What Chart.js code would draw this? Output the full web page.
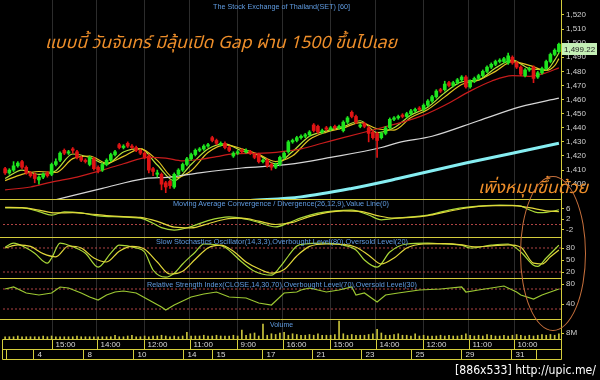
<!DOCTYPE html>
<html><head><meta charset="utf-8">
<script src="https://cdn.jsdelivr.net/npm/chart.js@4.4.1/dist/chart.umd.min.js"></script>
<style>
html,body{margin:0;padding:0;background:#000;width:600px;height:380px;overflow:hidden;}
#wrap{position:relative;width:600px;height:380px;background:#000;}
canvas{position:absolute;left:0;}
.t{position:absolute;white-space:nowrap;font-family:"Liberation Sans",Arial,sans-serif;line-height:1;}
.ttl{color:#5f9be0;font-size:7.5px;}
.thai{color:#ee8e2a;font-size:17px;font-style:italic;line-height:20px;font-family:"Noto Sans Thai","Noto Sans Thai UI","Loma","Garuda","Norasi","Noto Sans",sans-serif;}
#ell{position:absolute;left:520px;top:176px;width:66px;height:155px;border:1.3px solid #c8703c;border-radius:50%;box-sizing:border-box;}
</style></head><body><div id="wrap">
<canvas id="cPrice" width="600" height="199" style="top:0px"></canvas>
<canvas id="cMacd" width="600" height="38" style="top:199px"></canvas>
<canvas id="cSto" width="600" height="41" style="top:237px"></canvas>
<canvas id="cRsi" width="600" height="41" style="top:278px"></canvas>
<canvas id="cVol" width="600" height="41" style="top:319px"></canvas>
<div id="tTop" class="t ttl" style="left:213px;top:3px">The Stock Exchange of Thailand(SET) [60]</div>
<div id="tMacd" class="t ttl" style="left:173px;top:200px">Moving Average Convergence / Divergence(26,12,9),Value Line(0)</div>
<div id="tSto" class="t ttl" style="left:156px;top:238px">Slow Stochastics Oscillator(14,3,3),Overbought Level(80),Oversold Level(20)</div>
<div id="tRsi" class="t ttl" style="left:147px;top:281px">Relative Strength Index(CLOSE,14,30,70),Overbought Level(70),Oversold Level(30)</div>
<div id="tVol" class="t ttl" style="left:270px;top:321px">Volume</div>
<div id="th1" class="t thai" style="left:45px;top:33px">แบบนี้ วันจันทร์ มีลุ้นเปิด Gap ผ่าน 1500 ขึ้นไปเลย</div>
<div id="th2" class="t thai" style="left:478px;top:178px">เพิ่งหมุนขึ้นด้วย</div>
<div id="ell"></div>
<div id="wm" class="t" style="left:455px;top:363px;color:#fff;font-size:13px;font-family:'DejaVu Sans',sans-serif;">[886x533] http://upic.me/</div>
</div>
<script>
// ---------- DATA ----------
const open = [1411,1408,1410,1413,1416,1412,1408,1407,1403,1405, 1408,1407,1414,1417,1424,1422,1425,1423,1419,1417, 1414,1418,1412,1410,1414,1417,1421,1428,1426,1429, 1427,1426,1424,1422,1420,1411,1407,1407,1401,1402, 1398,1407,1410,1414,1418,1421,1424,1425,1427,1433, 1431,1428,1429,1426,1420,1422,1424,1423,1423,1421, 1421,1416,1417,1414,1412,1414,1419,1423,1430,1431, 1433,1434,1435,1442,1441,1437,1440,1439,1441,1440, 1438,1444,1451,1448,1441,1443,1440,1437,1436,1433, 1436,1440,1446,1447,1449,1448,1450,1452,1454,1453, 1456,1459,1462,1467,1467,1472,1470,1472,1474,1476, 1469,1473,1475,1477,1480,1483,1485,1487,1487,1486, 1490,1486,1483,1477,1481,1483,1476,1479,1482,1487, 1492,1494];
const close = [1408,1410,1413,1415,1412,1408,1406,1404,1405,1407, 1406,1414,1416,1422,1422,1423,1424,1419,1417,1416, 1419,1411,1410,1414,1417,1421,1423,1426,1427,1427, 1426,1424,1422,1419,1410,1409,1408,1400,1398,1399, 1407,1410,1414,1418,1421,1424,1425,1427,1428,1431, 1429,1429,1426,1424,1422,1423,1423,1424,1422,1419, 1416,1417,1413,1412,1414,1419,1422,1430,1431,1433, 1434,1435,1437,1438,1437,1438,1439,1440,1440,1441, 1444,1447,1448,1444,1442,1441,1436,1433,1431,1436, 1440,1446,1447,1448,1448,1450,1452,1453,1453,1456, 1459,1462,1466,1466,1471,1470,1472,1474,1476,1469, 1473,1475,1477,1480,1483,1485,1487,1488,1489,1491, 1486,1483,1478,1481,1482,1475,1479,1482,1487,1492, 1495,1499.22];
const high = [1412,1411,1416,1416,1417,1413,1409,1408,1406,1408, 1409,1415,1418,1423,1425,1424,1426,1424,1420,1418, 1420,1419,1413,1415,1418,1422,1424,1429,1428,1430, 1428,1427,1425,1423,1421,1412,1410,1408,1402,1403, 1408,1411,1415,1419,1422,1425,1426,1428,1429,1434, 1432,1430,1430,1427,1423,1424,1425,1425,1424,1422, 1422,1418,1418,1415,1415,1420,1423,1431,1432,1434, 1435,1436,1438,1443,1442,1439,1441,1441,1442,1442, 1445,1448,1452,1449,1443,1444,1441,1438,1437,1437, 1441,1447,1448,1449,1450,1451,1453,1454,1455,1457, 1460,1463,1467,1468,1473,1473,1473,1475,1477,1477, 1474,1476,1478,1481,1484,1486,1488,1489,1490,1493, 1491,1487,1484,1482,1483,1484,1480,1483,1488,1493, 1496,1500];
const low = [1407,1407,1409,1412,1411,1407,1405,1401,1400,1404, 1405,1406,1413,1416,1421,1421,1422,1418,1416,1415, 1413,1410,1408,1409,1413,1416,1420,1425,1425,1426, 1425,1423,1421,1418,1408,1406,1405,1396,1394,1397, 1397,1406,1409,1413,1417,1420,1423,1424,1426,1430, 1428,1427,1425,1423,1419,1421,1422,1422,1421,1418, 1415,1415,1412,1410,1411,1413,1418,1422,1429,1430, 1432,1433,1434,1437,1436,1436,1438,1438,1439,1439, 1437,1443,1447,1443,1440,1440,1430,1432,1419,1432, 1435,1439,1445,1446,1447,1447,1449,1451,1452,1452, 1455,1458,1461,1465,1466,1469,1469,1471,1473,1468, 1468,1472,1474,1476,1479,1482,1484,1486,1486,1485, 1485,1482,1477,1476,1480,1472,1475,1478,1481,1486, 1491,1493];
const volume = [3,3,3,4,3,3,3,3,3,4, 3,4,3,3,3,3,3,4,3,3, 3,3,3,3,3,3,5,3,3,4, 5,3,3,4,3,4,4,5,4,3, 4,3,4,9,4,4,4,5,4,4, 5,4,4,4,5,4,12,5,7,8, 4,20,5,7,6,8,9,5,7,6, 5,5,6,5,7,5,5,5,6,24, 7,5,6,5,5,5,6,7,13,8, 5,5,6,7,5,5,4,7,4,5, 4,4,4,5,4,5,4,4,5,7, 5,4,5,4,6,5,4,4,5,4, 5,6,5,4,5,4,5,6,5,6, 5,7];
// moving averages read as [bar index, value]
const maFast = [[0,1404],[4,1410],[8,1407],[12,1409.6],[16,1421.4],[20,1419],[24,1414.2],[28,1422.8],[32,1425.2],[36,1413.6],[40,1402.4],[44,1414],[48,1425],[52,1428.6],[56,1423.6],[60,1420.6],[64,1414.4],[68,1423.2],[72,1434],[76,1437.8],[80,1440.8],[84,1445],[88,1436.6],[92,1440],[96,1449],[100,1454.6],[104,1464.8],[108,1472.6],[112,1474],[116,1482.4],[120,1488],[124,1482],[128,1481],[130,1488],[131,1493]];
const maSlow = [[0,1402.5],[4,1407],[8,1409],[12,1408.3],[16,1418.1],[20,1420],[24,1414.9],[28,1419.7],[32,1425],[36,1416.9],[40,1404.4],[44,1409.6],[48,1422.4],[52,1427.9],[56,1425.1],[60,1421.1],[64,1416.1],[68,1420.1],[72,1431.7],[76,1436.9],[80,1439.9],[84,1443.7],[88,1439.3],[92,1438.4],[96,1447.3],[100,1453],[104,1461.9],[108,1470.7],[112,1473.7],[116,1480],[120,1486.9],[124,1484.3],[128,1480.6],[130,1484],[131,1489]];
const maRed = [[0,1396],[6,1398],[11,1401.5],[17,1405],[23,1410],[28,1414.5],[34,1419],[38,1418.5],[42,1416.5],[46,1417.5],[50,1419.5],[54,1421.5],[61,1422],[68,1424],[70,1425],[75,1429],[80,1433],[89,1440],[94,1444],[99,1449],[104,1456],[110,1466],[115,1473],[120,1477],[124,1476.5],[128,1479],[131,1482.5]];
const maWhite = [[12,1389],[23,1397],[33,1404],[39,1405],[46,1408],[56,1411.5],[67,1414],[77,1419],[89,1426],[93,1429.5],[101,1434],[112,1445],[122,1455],[131,1461]];
const maCyan = [[58,1388.5],[70,1391],[82,1397],[93,1404],[109,1415],[120,1422],[131,1429]];
const macdLine = [[0,6.3],[4,6.3],[8,4.9],[11,3.6],[14,4.8],[18,4.4],[22,3.3],[27,2.9],[32,2.4],[35,0.5],[37,-1.2],[40,-2.1],[44,-0.8],[48,1.5],[53,2.9],[57,2.0],[60,0.8],[64,-0.9],[67,0.6],[70,2.5],[74,4.3],[78,5.2],[82,5.5],[86,3.6],[89,1.8],[93,2.5],[100,3.6],[105,5.5],[110,6.7],[117,7.4],[122,7.0],[124,5.6],[126,4.5],[128,4.6],[131,5.6]];
const macdSignal = [[0,6.5],[4,6.4],[8,5.5],[12,4.4],[16,4.5],[20,4.0],[24,3.4],[28,3.0],[32,2.7],[36,1.2],[40,-1.0],[44,-1.3],[48,0.3],[52,2.0],[56,2.4],[60,1.3],[64,0.0],[68,0.8],[72,3.0],[76,4.5],[80,5.2],[84,5.0],[88,3.4],[92,2.4],[96,2.7],[100,3.4],[104,4.7],[108,6.0],[112,6.9],[116,7.2],[120,7.2],[124,6.4],[128,5.2],[131,4.9]];
const stoK = [[0,82],[2,92],[5,80],[7,67],[10,42],[11,55],[13,92],[15,87],[19,67],[22,32],[25,67],[27,87],[31,80],[33,70],[35,25],[38,7],[40,17],[42,40],[45,70],[47,90],[50,88],[52,82],[56,45],[59,22],[63,12],[65,32],[67,60],[69,85],[71,90],[75,92],[80,87],[83,75],[85,50],[88,32],[91,70],[95,90],[100,92],[104,90],[108,87],[110,80],[115,87],[119,90],[122,70],[125,37],[126,34],[128,55],[131,87]];
const stoD = [[0,80],[3,88],[6,84],[9,66],[12,58],[15,85],[18,80],[21,55],[24,45],[27,72],[30,84],[33,77],[36,45],[39,15],[42,22],[45,52],[48,80],[51,87],[54,72],[57,45],[60,28],[63,17],[66,26],[69,60],[72,84],[76,90],[80,89],[83,82],[86,62],[89,40],[92,55],[95,80],[99,90],[104,91],[108,88],[111,83],[115,85],[119,88],[122,82],[125,42],[127,40],[129,58],[131,75]];
const rsi = [[0,70],[2,74],[5,62],[8,58],[11,62],[13,74],[15,72],[18,62],[20,54],[22,48],[24,58],[26,64],[28,66],[31,62],[34,48],[37,34],[38,28],[40,38],[44,54],[47,60],[50,64],[53,54],[57,52],[60,42],[63,38],[66,62],[69,64],[70,68],[72,72],[76,64],[79,68],[82,74],[83,58],[85,62],[88,44],[90,58],[93,62],[98,68],[103,70],[108,74],[109,64],[112,68],[118,76],[121,64],[122,58],[125,50],[127,58],[131,70]];
const macdLevels = [0];
const stoLevels = [80, 20];
const rsiLevels = [70, 30];
const priceTicks = [1400,1410,1420,1430,1440,1450,1460,1470,1480,1490,1500,1510,1520];
const macdTicks = [6, 2, -2];
const stoTicks = [80, 50, 20];
const rsiTicks = [80, 60, 40, 20];
const volTicks = [8];
const hourPos = [11.1,21.7,32.9,43.7,54.9,65.7,76.9,87.7,98.9,109.7,120.4];
const hourLabels = ['15:00','14:00','12:00','11:00','9:00','16:00','15:00','14:00','12:00','11:00','10:00'];
const datePos = [0.2,6.6,18.4,30.3,42.1,48.9,60.8,72.6,84.2,96.0,107.9,119.7,125.6];
const dateLabels = ['','4','8','10','14','15','17','21','23','25','29','31',''];

// ---------- CHARTS ----------
const N = close.length;
const YEL = '#d4cc3c';
const GREEN = '#1ee61e', RED = '#e01414';
const FONT = '"Liberation Sans", Arial, sans-serif';
Chart.defaults.font.family = FONT;
const pts = a => a.map(([x,y]) => ({x, y}));
const levelDs = v => ({type:'line', data:[{x:-0.5,y:v},{x:N-0.5,y:v}], borderColor:'#b04444', borderWidth:1, borderDash:[2,2], pointRadius:0, order:9});
const lineDs = (a,color,w,smooth) => ({type:'line', data:pts(a), borderColor:color, borderWidth:w, pointRadius:0, cubicInterpolationMode: smooth?'monotone':'default', tension:0, order:3});

function xCfg(){ return {type:'linear', min:-0.5, max:N-0.5, offset:false,
  afterBuildTicks(s){ s.ticks = hourPos.map(v=>({value:v})); },
  afterFit(s){ s.height=0; s.paddingLeft=0; s.paddingRight=0; },
  ticks:{display:false}, grid:{color:'#2c2c2c', drawTicks:false, offset:false, lineWidth:1}, border:{display:false} }; }
function yCfg(min,max,ticks,fmt){ return {type:'linear', position:'right', min, max,
  afterBuildTicks(s){ s.ticks = ticks.map(v=>({value:v})); },
  afterFit(s){ s.width=39; s.paddingTop=0; s.paddingBottom=0; },
  grid:{drawOnChartArea:false, color:YEL, tickLength:3},
  border:{display:true, color:YEL},
  ticks:{color:'#d0d0d0', font:{size:8, family:FONT}, padding:2, callback: fmt || (v=>String(v))} }; }
const topLine = {id:'topLine', afterDraw(c){ const ctx=c.ctx; ctx.save(); ctx.strokeStyle=YEL; ctx.lineWidth=1; ctx.beginPath(); ctx.moveTo(0,0.5); ctx.lineTo(c.chartArea.right+0.5,0.5); ctx.stroke(); ctx.restore(); }};
const baseOpts = (scales, pad) => ({responsive:false, animation:false, events:[], layout:{padding:pad},
  plugins:{legend:{display:false}, tooltip:{enabled:false}}, scales});

const candleColor = ctx => close[ctx.dataIndex] >= open[ctx.dataIndex] ? GREEN : RED;
const priceBox = {id:'priceBox', afterDraw(c){
  const y = Math.round(c.scales.y.getPixelForValue(close[N-1]));
  const ctx=c.ctx; ctx.save();
  ctx.fillStyle='#c4efb6'; ctx.fillRect(562, y-1, 35, 12);
  ctx.fillStyle='#222'; ctx.font='8px '+FONT; ctx.textBaseline='middle';
  ctx.fillText(close[N-1].toLocaleString('en-US',{minimumFractionDigits:2}), 564, y+5.5);
  ctx.restore(); }};

new Chart(document.getElementById('cPrice'), {type:'bar',
  data:{datasets:[
    {type:'bar', data: low.map((l,i)=>({x:i, y:[l, high[i]]})), backgroundColor:candleColor, barThickness:1, grouped:false, order:1},
    {type:'bar', data: open.map((o,i)=>({x:i, y:[o, close[i]]})), backgroundColor:candleColor, barThickness:3, minBarLength:1, grouped:false, order:0},
    lineDs(maCyan,'#86eef2',3,true),
    lineDs(maWhite,'#d6d6d6',1.2,true),
    lineDs(maRed,'#c81c1c',1.2,true),
    lineDs(maSlow,'#e2c422',1.2,true),
    lineDs(maFast,'#b4e23a',1.2,true)
  ]},
  options: baseOpts({x:xCfg(), y:yCfg(1389.5,1530.6,priceTicks,v=>v.toLocaleString('en-US'))}, {left:3,right:0,top:0,bottom:0}),
  plugins:[priceBox]});

new Chart(document.getElementById('cMacd'), {type:'line',
  data:{datasets:[...macdLevels.map(levelDs), lineDs(macdSignal,'#e2d83a',1.2,true), lineDs(macdLine,'#a8d838',1.2,true)]},
  options: baseOpts({x:xCfg(), y:yCfg(-4.75,9.7,macdTicks)}, {left:3,right:0,top:0,bottom:0}), plugins:[topLine]});

new Chart(document.getElementById('cSto'), {type:'line',
  data:{datasets:[...stoLevels.map(levelDs), lineDs(stoD,'#e2d83a',1.2,true), lineDs(stoK,'#a8d838',1.2,true)]},
  options: baseOpts({x:xCfg(), y:yCfg(5,107.5,stoTicks)}, {left:3,right:0,top:0,bottom:0}), plugins:[topLine]});

new Chart(document.getElementById('cRsi'), {type:'line',
  data:{datasets:[...rsiLevels.map(levelDs), lineDs(rsi,'#9cc832',1.2,false)]},
  options: baseOpts({x:xCfg(), y:yCfg(10,92,rsiTicks)}, {left:3,right:0,top:0,bottom:0}), plugins:[topLine]});

const timeAxis = {id:'timeAxis', afterDraw(c){
  const ctx=c.ctx, xs=c.scales.x, a=c.chartArea;
  const y0=Math.round(a.bottom)+0.5, y1=y0+10, y2=y0+20, R=Math.round(a.right)+0.5, L=2.5;
  const px = p => Math.round(xs.getPixelForValue(p))+0.5;
  ctx.save(); ctx.strokeStyle=YEL; ctx.lineWidth=1; ctx.beginPath();
  [y0,y1,y2].forEach(y=>{ctx.moveTo(L,y);ctx.lineTo(R,y);});
  ctx.moveTo(L,y0); ctx.lineTo(L,y2);
  ctx.moveTo(R,0); ctx.lineTo(R,y2);
  hourPos.forEach(p=>{const x=px(p); ctx.moveTo(x,y0); ctx.lineTo(x,y1);});
  datePos.forEach(p=>{const x=px(p); ctx.moveTo(x,y1); ctx.lineTo(x,y2);});
  ctx.stroke();
  ctx.fillStyle='#d8d8d8'; ctx.font='8px '+FONT; ctx.textBaseline='middle';
  hourPos.forEach((p,k)=>ctx.fillText(hourLabels[k], px(p)+3, y0+5.5));
  datePos.forEach((p,k)=>ctx.fillText(dateLabels[k], px(p)+4, y1+5.5));
  ctx.restore(); }};

new Chart(document.getElementById('cVol'), {type:'bar',
  data:{datasets:[{type:'bar', data: volume.map((v,i)=>({x:i, y:v})), backgroundColor:'#c8c23c', barThickness:1, grouped:false}]},
  options: baseOpts({x:xCfg(), y:yCfg(0,26.67,volTicks,v=>v+'M')}, {left:3,right:0,top:0,bottom:21}), plugins:[topLine,timeAxis]});

// fit free texts to their measured widths in the reference
function fit(id, w){ const el=document.getElementById(id); const r=el.getBoundingClientRect().width; if(r>0){ el.style.transformOrigin='left top'; el.style.transform='scaleX('+(w/r)+')'; } }
fit('tTop',137); fit('tMacd',216); fit('tSto',252); fit('tRsi',270); fit('tVol',23);
fit('th1',352); fit('th2',110); fit('wm',141);
</script>
</body></html>
